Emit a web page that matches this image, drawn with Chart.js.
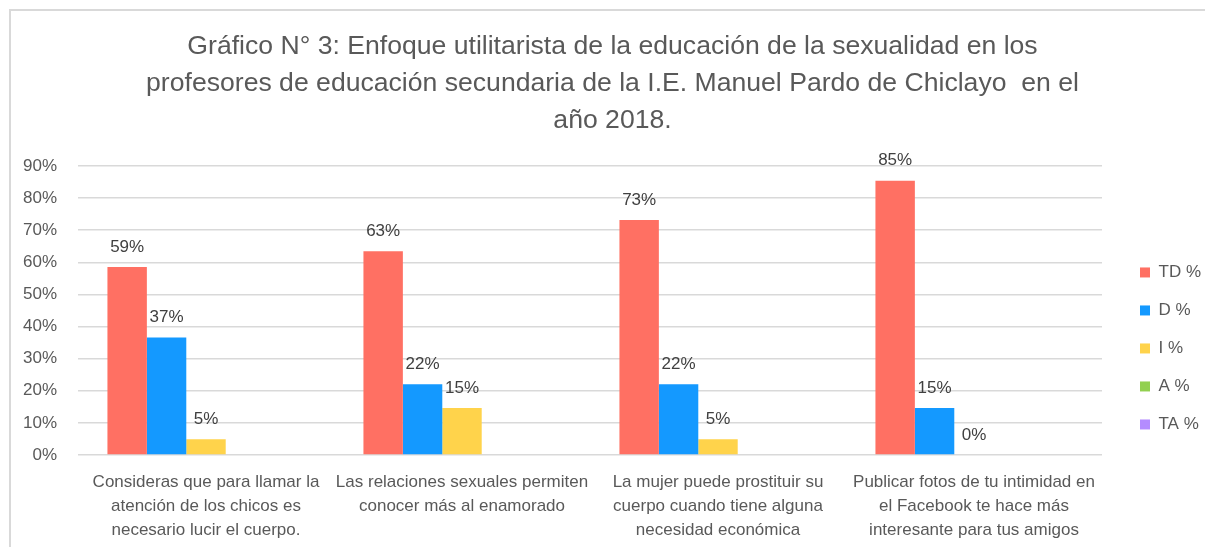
<!DOCTYPE html>
<html>
<head>
<meta charset="utf-8">
<script src="https://cdn.jsdelivr.net/npm/chart.js@4/dist/chart.umd.min.js"></script>
<style>
  html, body { margin: 0; padding: 0; background: #fff; }
  #wrap { position: relative; width: 1205px; height: 547px; overflow: hidden; }
  #frame { position: absolute; left: 9px; top: 9px; width: 1300px; height: 600px; border-top: 2px solid #d9d9d9; border-left: 2px solid #d9d9d9; }
  canvas { position: absolute; left: 0; top: 0; }
</style>
</head>
<body>
<div id="wrap"><div id="frame"></div><canvas id="myChart" width="1205" height="547"></canvas></div>
<script>
const categories = [
  ["Consideras que para llamar la", "atención de los chicos es", "necesario lucir el cuerpo."],
  ["Las relaciones sexuales permiten", "conocer más al enamorado"],
  ["La mujer puede prostituir su", "cuerpo cuando tiene alguna", "necesidad económica"],
  ["Publicar fotos de tu intimidad en", "el Facebook te hace más", "interesante para tus amigos"]
]
const seriesNames = ["TD %", "D %", "I %", "A %", "TA %"]
const td = [58.5, 63.4, 73.2, 85.4]
const d = [36.6, 22.0, 22.0, 14.6]
const i_ = [4.9, 14.6, 4.9, 0]
const a = [null, null, null, null]
const ta = [null, null, null, null]
const yTicks = [0, 10, 20, 30, 40, 50, 60, 70, 80, 90]
const colors = ["#FF7063", "#1499FF", "#FFD34B", "#92D050", "#B48CFF"]

const FONT = "'Liberation Sans', Arial, sans-serif"
Chart.defaults.font.family = FONT
Chart.defaults.color = "#595959"

// labels above the bars (only TD, D, I have values)
const barLabels = {
  id: "barLabels",
  afterDatasetsDraw(chart) {
    const ctx = chart.ctx
    ctx.save()
    ctx.font = "17px " + FONT
    ctx.fillStyle = "#404040"
    ctx.textAlign = "center"
    ctx.textBaseline = "middle"
    chart.data.datasets.forEach((ds, di) => {
      chart.getDatasetMeta(di).data.forEach((bar, j) => {
        const v = ds.data[j]
        if (v == null) return
        ctx.fillText(Math.round(v) + "%", bar.x, bar.y - 20)
      })
    })
    ctx.restore()
  }
}

// legend sits a bit off the plot, like the excel one
const legendPlace = {
  id: "legendPlace",
  beforeLayout(chart) {
    const lg = chart.legend
    if (lg && !lg._patched) {
      const fit = lg.fit
      lg.fit = function () { fit.call(this); this.width = 103 }
      lg._patched = true
    }
  },
  afterLayout(chart) {
    const lg = chart.legend
    lg.left += 17; lg.right += 17
    lg.top += 38; lg.bottom += 38
  }
}

const ctx = document.getElementById("myChart")
new Chart(ctx, {
  type: "bar",
  data: {
    labels: categories,
    datasets: [td, d, i_, a, ta].map((vals, k) => ({
      label: seriesNames[k],
      data: vals,
      backgroundColor: colors[k],
      borderWidth: 0,
      categoryPercentage: 0.77,
      barPercentage: 1.0
    }))
  },
  options: {
    responsive: false,
    animation: false,
    layout: { padding: { left: 20, right: 0, top: 0, bottom: 0 } },
    plugins: {
      title: {
        display: true,
        text: [
          "Gráfico N° 3: Enfoque utilitarista de la educación de la sexualidad en los",
          "profesores de educación secundaria de la I.E. Manuel Pardo de Chiclayo  en el",
          "año 2018."
        ],
        color: "#595959",
        font: { size: 26.6, weight: "normal", lineHeight: 1.39 },
        padding: { top: 28, bottom: 27 }
      },
      legend: {
        position: "right",
        fullSize: false,
        labels: {
          boxWidth: 10,
          boxHeight: 10,
          padding: 21,
          color: "#595959",
          font: { size: 17 }
        }
      },
      tooltip: { enabled: false }
    },
    scales: {
      x: {
        grid: { display: false, drawTicks: false },
        border: { display: false },
        ticks: { color: "#595959", font: { size: 17, lineHeight: 1.41 }, padding: 15, maxRotation: 0, autoSkip: false },
        afterFit(scale) { scale.height = 92 }
      },
      y: {
        min: 0,
        max: 90,
        afterBuildTicks(scale) { scale.ticks = yTicks.map(v => ({ value: v })) },
        grid: { color: "#d9d9d9", lineWidth: 1.5, drawTicks: false },
        border: { display: false },
        ticks: { color: "#595959", font: { size: 17 }, padding: 21, callback: v => v + "%" },
        afterFit(scale) { scale.width = 58 }
      }
    }
  },
  plugins: [barLabels, legendPlace]
})
</script>
</body>
</html>
